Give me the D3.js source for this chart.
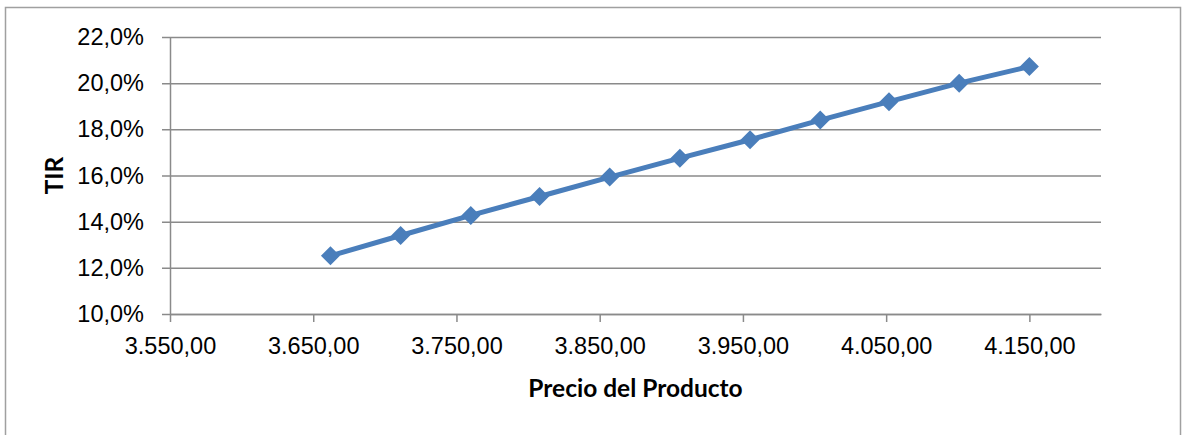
<!DOCTYPE html>
<html>
<head>
<meta charset="utf-8">
<script src="https://cdn.jsdelivr.net/npm/d3@7"></script>
<style>
  html, body { margin: 0; padding: 0; background: #fff; }
  svg { display: block; font-family: Lato, "Open Sans", "Liberation Sans", sans-serif; }
</style>
</head>
<body>
<svg id="chart" width="1186" height="435"></svg>
<script>
// Precio del producto vs. TIR
const precios = [3662, 3711, 3760, 3808, 3857, 3906, 3955, 4004, 4052, 4101, 4150];
const tir = [0.1252, 0.1340, 0.1427, 0.1509, 0.1593, 0.1675, 0.1755, 0.1840, 0.1920, 0.2000, 0.2072];
const xTicks = [3550, 3650, 3750, 3850, 3950, 4050, 4150];
const yTicks = [0.10, 0.12, 0.14, 0.16, 0.18, 0.20, 0.22];

const svg = d3.select("#chart");
const W = 1186, H = 435;
const m = { left: 170, right: 85, top: 37, bottom: 121 };
const fs = 23.5;

svg.append("rect").attr("width", W).attr("height", H).attr("fill", "#fff");
// chart frame
svg.append("rect")
  .attr("x", 5.5).attr("y", 7.5)
  .attr("width", 1175).attr("height", 440)
  .attr("fill", "none").attr("stroke", "#a0a0a0").attr("stroke-width", 1.5);

const x = d3.scaleLinear().domain([3550, 4200]).range([m.left, W - m.right]);
const y = d3.scaleLinear().domain([0.10, 0.22]).range([H - m.bottom, m.top]);

const gridColor = "#8a8a8a";
const esNum = v => d3.format(",.2f")(v).replace(/,/g, "#").replace(/\./g, ",").replace(/#/g, ".");
const esPct = v => d3.format(".1f")(v * 100).replace(".", ",") + "%";

// y axis with gridlines
const yAxis = svg.append("g")
  .attr("transform", `translate(${m.left},0)`)
  .call(d3.axisLeft(y).tickValues(yTicks).tickFormat(esPct)
    .tickSize(-(W - m.right - m.left)).tickSizeOuter(0).tickPadding(26));
yAxis.select(".domain").attr("stroke", gridColor).attr("stroke-width", 1.5);
yAxis.selectAll(".tick line").attr("stroke", gridColor).attr("stroke-width", 1.5)
  .attr("x1", -8);
yAxis.selectAll(".tick text").attr("font-size", fs).attr("fill", "#000");

// x axis
const xAxis = svg.append("g")
  .attr("transform", `translate(0,${H - m.bottom})`)
  .call(d3.axisBottom(x).tickValues(xTicks).tickFormat(esNum)
    .tickSize(8).tickSizeOuter(0).tickPadding(15));
xAxis.select(".domain").attr("stroke", gridColor).attr("stroke-width", 1.5);
xAxis.selectAll(".tick line").attr("stroke", gridColor).attr("stroke-width", 1.5);
xAxis.selectAll(".tick text").attr("font-size", fs).attr("fill", "#000");

// series
const pts = precios.map((p, i) => [p, tir[i]]);
const lineColor = "#4a7ebb";
svg.append("path")
  .datum(pts)
  .attr("fill", "none")
  .attr("stroke", lineColor)
  .attr("stroke-width", 5)
  .attr("stroke-linejoin", "round")
  .attr("d", d3.line().x(d => x(d[0])).y(d => y(d[1])));

const r = 9.5;
svg.append("g").selectAll("path")
  .data(pts)
  .join("path")
  .attr("fill", lineColor)
  .attr("d", d => {
    const cx = x(d[0]), cy = y(d[1]);
    return `M${cx},${cy - r}L${cx + r},${cy}L${cx},${cy + r}L${cx - r},${cy}Z`;
  });

// axis titles
svg.append("text")
  .attr("x", (m.left + W - m.right) / 2).attr("y", 397)
  .attr("text-anchor", "middle").attr("font-size", 24.5).attr("font-weight", "bold")
  .attr("fill", "#000")
  .text("Precio del Producto");

svg.append("text")
  .attr("transform", `translate(63,${(m.top + H - m.bottom) / 2}) rotate(-90)`)
  .attr("text-anchor", "middle").attr("font-size", 24.5).attr("font-weight", "bold")
  .attr("fill", "#000")
  .text("TIR");
</script>
</body>
</html>
